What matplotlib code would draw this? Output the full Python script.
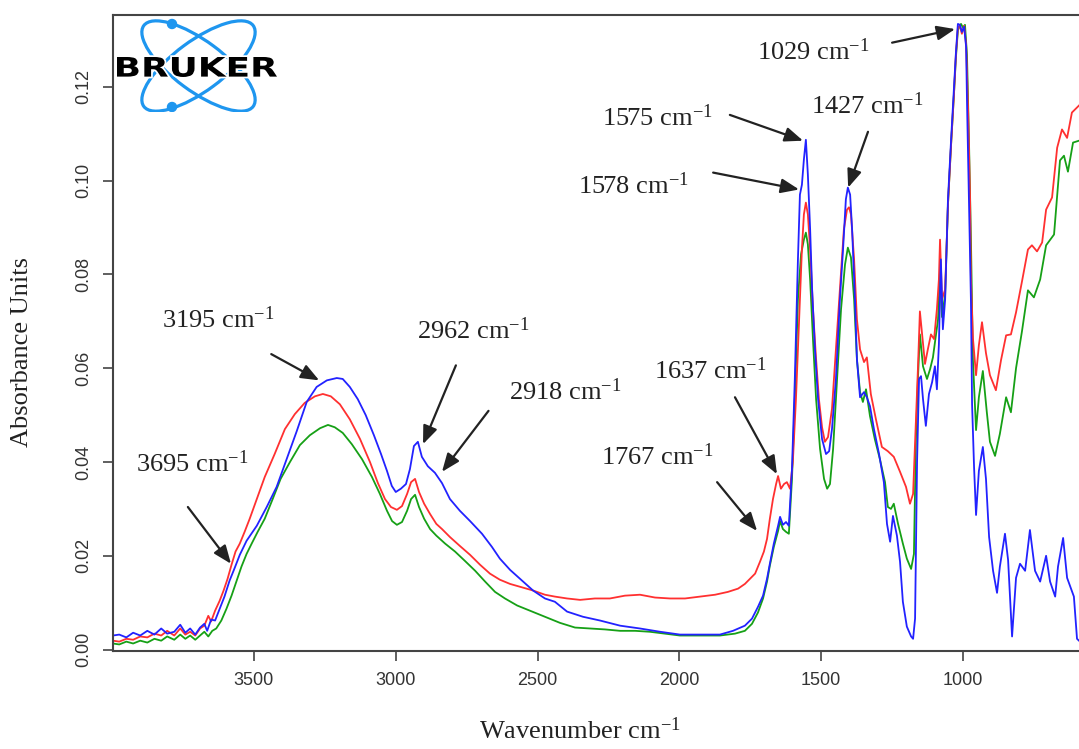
import matplotlib

matplotlib.use("Agg")
import matplotlib.pyplot as plt
import numpy as np
from matplotlib.font_manager import FontProperties
from matplotlib.patches import Circle, Ellipse, PathPatch
from matplotlib.textpath import TextPath
from matplotlib.transforms import Affine2D
import matplotlib.patheffects as pe

plt.rcParams["mathtext.fontset"] = "custom"
plt.rcParams["mathtext.rm"] = "Liberation Serif"
plt.rcParams["mathtext.default"] = "regular"

# FTIR absorbance spectra (wavenumber in cm-1, absorbance units)
BLUE_WN = [3997, 3975, 3950, 3926, 3901, 3876, 3851, 3827, 3806, 3781,
           3760, 3742, 3725, 3707, 3690, 3675, 3665, 3651, 3637, 3621,
           3604, 3586, 3568, 3550, 3526, 3490, 3455, 3420, 3385, 3349,
           3314, 3279, 3243, 3208, 3187, 3162, 3134, 3106, 3077, 3052,
           3031, 3014, 3000, 2982, 2964, 2950, 2936, 2922, 2908, 2887,
           2862, 2837, 2809, 2774, 2738, 2696, 2661, 2633, 2597, 2562,
           2516, 2474, 2439, 2396, 2340, 2280, 2209, 2139, 2068, 1998,
           1927, 1857, 1811, 1769, 1744, 1723, 1705, 1691, 1681, 1667,
           1652, 1645, 1635, 1624, 1614, 1603, 1593, 1582, 1575, 1568,
           1561, 1554, 1547, 1539, 1532, 1522, 1511, 1497, 1483, 1472,
           1462, 1448, 1434, 1423, 1413, 1406, 1398, 1391, 1381, 1374,
           1363, 1349, 1339, 1328, 1314, 1296, 1279, 1268, 1257, 1247,
           1233, 1222, 1212, 1198, 1183, 1176, 1169, 1162, 1155, 1148,
           1141, 1131, 1120, 1109, 1099, 1092, 1085, 1078, 1071, 1063,
           1053, 1042, 1032, 1025, 1018, 1011, 1004, 996, 989, 986,
           979, 972, 968, 961, 954, 944, 930, 919, 908, 894,
           880, 870, 852, 841, 827, 813, 799, 781, 764, 746,
           728, 707, 693, 675, 665, 647, 633, 619, 609, 598,
           591]
BLUE_ABS = [0.0030, 0.0032, 0.0026, 0.0036, 0.0030, 0.0040, 0.0032, 0.0045, 0.0034, 0.0038,
            0.0053, 0.0036, 0.0045, 0.0032, 0.0047, 0.0055, 0.0040, 0.0064, 0.0062, 0.0087,
            0.0113, 0.0147, 0.0174, 0.0202, 0.0232, 0.0264, 0.0304, 0.0347, 0.0406, 0.0466,
            0.0528, 0.0560, 0.0574, 0.0579, 0.0577, 0.0560, 0.0534, 0.0500, 0.0457, 0.0417,
            0.0381, 0.0349, 0.0336, 0.0343, 0.0353, 0.0385, 0.0434, 0.0443, 0.0411, 0.0391,
            0.0377, 0.0355, 0.0321, 0.0296, 0.0274, 0.0247, 0.0219, 0.0194, 0.0170, 0.0151,
            0.0126, 0.0109, 0.0102, 0.0081, 0.0070, 0.0062, 0.0051, 0.0045, 0.0038, 0.0032,
            0.0032, 0.0032, 0.0040, 0.0051, 0.0066, 0.0091, 0.0115, 0.0151, 0.0183, 0.0226,
            0.0264, 0.0283, 0.0266, 0.0272, 0.0264, 0.0385, 0.0577, 0.0832, 0.0970, 0.0991,
            0.1045, 0.1087, 0.1013, 0.0896, 0.0768, 0.0640, 0.0534, 0.0449, 0.0417, 0.0423,
            0.0470, 0.0577, 0.0747, 0.0853, 0.0960, 0.0985, 0.0970, 0.0896, 0.0747, 0.0619,
            0.0538, 0.0549, 0.0538, 0.0519, 0.0470, 0.0417, 0.0357, 0.0268, 0.0230, 0.0285,
            0.0243, 0.0187, 0.0102, 0.0049, 0.0028, 0.0023, 0.0066, 0.0400, 0.0577, 0.0583,
            0.0534, 0.0477, 0.0545, 0.0570, 0.0604, 0.0555, 0.0651, 0.0832, 0.0683, 0.0747,
            0.0960, 0.1087, 0.1194, 0.1272, 0.1334, 0.1332, 0.1317, 0.1328, 0.1285, 0.1172,
            0.0960, 0.0743, 0.0523, 0.0389, 0.0287, 0.0381, 0.0432, 0.0364, 0.0240, 0.0168,
            0.0121, 0.0177, 0.0247, 0.0191, 0.0028, 0.0153, 0.0183, 0.0168, 0.0255, 0.0168,
            0.0145, 0.0200, 0.0145, 0.0113, 0.0177, 0.0238, 0.0153, 0.0130, 0.0113, 0.0023,
            0.0019]

RED_WN = [3997, 3975, 3950, 3926, 3901, 3876, 3851, 3827, 3806, 3781,
          3760, 3742, 3725, 3707, 3690, 3675, 3661, 3651, 3637, 3621,
          3607, 3593, 3579, 3565, 3550, 3533, 3515, 3490, 3462, 3427,
          3391, 3356, 3321, 3285, 3257, 3229, 3197, 3162, 3126, 3091,
          3063, 3038, 3017, 2996, 2978, 2960, 2946, 2932, 2918, 2900,
          2879, 2857, 2837, 2809, 2774, 2738, 2703, 2668, 2633, 2597,
          2562, 2516, 2474, 2439, 2396, 2350, 2298, 2245, 2192, 2139,
          2086, 2033, 1980, 1927, 1874, 1829, 1793, 1769, 1751, 1733,
          1716, 1702, 1691, 1681, 1670, 1659, 1652, 1642, 1631, 1621,
          1610, 1600, 1589, 1578, 1568, 1561, 1554, 1547, 1539, 1529,
          1518, 1508, 1497, 1487, 1476, 1462, 1448, 1434, 1420, 1409,
          1402, 1395, 1384, 1374, 1363, 1349, 1339, 1325, 1307, 1286,
          1265, 1244, 1222, 1201, 1187, 1176, 1166, 1159, 1152, 1145,
          1134, 1124, 1113, 1102, 1092, 1085, 1081, 1074, 1063, 1053,
          1042, 1032, 1025, 1018, 1011, 1004, 996, 989, 982, 975,
          972, 965, 954, 944, 933, 919, 905, 884, 866, 848,
          831, 813, 792, 771, 757, 739, 721, 707, 686, 668,
          651, 633, 616, 591]
RED_ABS = [0.0019, 0.0017, 0.0023, 0.0021, 0.0028, 0.0026, 0.0034, 0.0030, 0.0040, 0.0030,
           0.0045, 0.0032, 0.0038, 0.0030, 0.0045, 0.0051, 0.0072, 0.0060, 0.0083, 0.0104,
           0.0126, 0.0151, 0.0181, 0.0209, 0.0226, 0.0251, 0.0279, 0.0321, 0.0368, 0.0417,
           0.0470, 0.0502, 0.0526, 0.0540, 0.0545, 0.0540, 0.0523, 0.0491, 0.0449, 0.0400,
           0.0355, 0.0321, 0.0304, 0.0298, 0.0306, 0.0332, 0.0357, 0.0364, 0.0336, 0.0311,
           0.0289, 0.0268, 0.0257, 0.0240, 0.0221, 0.0202, 0.0181, 0.0162, 0.0149, 0.0140,
           0.0134, 0.0126, 0.0117, 0.0113, 0.0109, 0.0106, 0.0109, 0.0109, 0.0115, 0.0117,
           0.0111, 0.0109, 0.0109, 0.0113, 0.0117, 0.0123, 0.0130, 0.0140, 0.0151, 0.0162,
           0.0187, 0.0209, 0.0236, 0.0279, 0.0321, 0.0353, 0.0370, 0.0343, 0.0353, 0.0357,
           0.0343, 0.0400, 0.0534, 0.0704, 0.0853, 0.0928, 0.0953, 0.0928, 0.0853, 0.0726,
           0.0619, 0.0534, 0.0474, 0.0443, 0.0453, 0.0513, 0.0640, 0.0768, 0.0896, 0.0938,
           0.0943, 0.0928, 0.0832, 0.0704, 0.0640, 0.0613, 0.0623, 0.0545, 0.0491, 0.0432,
           0.0423, 0.0411, 0.0379, 0.0347, 0.0311, 0.0332, 0.0491, 0.0598, 0.0721, 0.0677,
           0.0609, 0.0640, 0.0672, 0.0662, 0.0726, 0.0789, 0.0874, 0.0747, 0.0768, 0.0949,
           0.1077, 0.1183, 0.1268, 0.1326, 0.1330, 0.1313, 0.1330, 0.1289, 0.1151, 0.0960,
           0.0789, 0.0664, 0.0585, 0.0649, 0.0698, 0.0632, 0.0585, 0.0553, 0.0617, 0.0670,
           0.0672, 0.0719, 0.0785, 0.0853, 0.0862, 0.0849, 0.0868, 0.0938, 0.0964, 0.1070,
           0.1109, 0.1091, 0.1145, 0.1160]

GREEN_WN = [3997, 3975, 3950, 3926, 3901, 3876, 3851, 3827, 3806, 3781,
            3760, 3742, 3725, 3707, 3690, 3675, 3661, 3647, 3633, 3615,
            3597, 3579, 3561, 3544, 3526, 3508, 3487, 3462, 3434, 3406,
            3373, 3338, 3303, 3267, 3239, 3215, 3187, 3155, 3119, 3084,
            3056, 3031, 3013, 2996, 2978, 2960, 2946, 2932, 2918, 2900,
            2879, 2857, 2826, 2791, 2756, 2720, 2685, 2650, 2615, 2572,
            2527, 2474, 2421, 2368, 2315, 2262, 2209, 2156, 2104, 2051,
            1998, 1927, 1857, 1804, 1769, 1744, 1723, 1705, 1691, 1681,
            1667, 1652, 1645, 1635, 1624, 1614, 1603, 1593, 1582, 1571,
            1561, 1554, 1547, 1539, 1529, 1518, 1504, 1490, 1479, 1469,
            1458, 1444, 1430, 1416, 1406, 1395, 1384, 1374, 1363, 1353,
            1342, 1328, 1311, 1293, 1275, 1265, 1254, 1244, 1229, 1212,
            1198, 1183, 1173, 1166, 1159, 1152, 1141, 1127, 1116, 1106,
            1099, 1088, 1081, 1074, 1063, 1053, 1042, 1032, 1025, 1018,
            1007, 1000, 993, 986, 979, 972, 965, 954, 944, 930,
            916, 905, 887, 870, 848, 831, 813, 792, 771, 750,
            728, 707, 679, 658, 644, 630, 612, 591]
GREEN_ABS = [0.0013, 0.0011, 0.0017, 0.0013, 0.0019, 0.0015, 0.0023, 0.0019, 0.0028, 0.0021,
             0.0032, 0.0023, 0.0030, 0.0021, 0.0030, 0.0038, 0.0028, 0.0040, 0.0045, 0.0062,
             0.0087, 0.0115, 0.0147, 0.0177, 0.0204, 0.0226, 0.0251, 0.0279, 0.0321, 0.0364,
             0.0400, 0.0436, 0.0457, 0.0472, 0.0479, 0.0474, 0.0462, 0.0438, 0.0406, 0.0368,
             0.0332, 0.0296, 0.0274, 0.0266, 0.0272, 0.0296, 0.0321, 0.0330, 0.0304, 0.0279,
             0.0257, 0.0243, 0.0226, 0.0209, 0.0189, 0.0168, 0.0145, 0.0123, 0.0109, 0.0094,
             0.0083, 0.0070, 0.0057, 0.0047, 0.0045, 0.0043, 0.0040, 0.0040, 0.0038, 0.0034,
             0.0030, 0.0030, 0.0030, 0.0034, 0.0040, 0.0055, 0.0079, 0.0109, 0.0145, 0.0179,
             0.0219, 0.0253, 0.0274, 0.0257, 0.0251, 0.0247, 0.0364, 0.0534, 0.0747, 0.0843,
             0.0874, 0.0889, 0.0864, 0.0789, 0.0662, 0.0534, 0.0428, 0.0364, 0.0343, 0.0353,
             0.0428, 0.0577, 0.0726, 0.0821, 0.0857, 0.0836, 0.0747, 0.0619, 0.0549, 0.0528,
             0.0555, 0.0498, 0.0449, 0.0406, 0.0357, 0.0304, 0.0300, 0.0311, 0.0268, 0.0226,
             0.0194, 0.0172, 0.0204, 0.0449, 0.0577, 0.0672, 0.0604, 0.0577, 0.0598, 0.0623,
             0.0655, 0.0704, 0.0811, 0.0709, 0.0757, 0.0949, 0.1077, 0.1183, 0.1262, 0.1321,
             0.1334, 0.1326, 0.1332, 0.1268, 0.1087, 0.0874, 0.0617, 0.0468, 0.0538, 0.0594,
             0.0506, 0.0443, 0.0413, 0.0460, 0.0538, 0.0506, 0.0600, 0.0679, 0.0766, 0.0751,
             0.0789, 0.0862, 0.0885, 0.1043, 0.1053, 0.1019, 0.1081, 0.1085]

X_TICKS = [3500, 3000, 2500, 2000, 1500, 1000]
Y_TICKS = [0.00, 0.02, 0.04, 0.06, 0.08, 0.10, 0.12]

# band labels: (text, label centre, arrow tail, arrow tip) in data coordinates
PEAK_LABELS = [
    ("1029", (1529, 0.1274), (1250, 0.1294), (1028, 0.1323)),
    ("1575", (2079, 0.1134), (1822, 0.1140), (1564, 0.1085)),
    ("1578", (2163, 0.0989), (1881, 0.1017), (1578, 0.0981)),
    ("1427", (1339, 0.1160), (1335, 0.1104), (1405, 0.0985)),
    ("3195", (3626, 0.0704), (3439, 0.0630), (3270, 0.0574)),
    ("2962", (2728, 0.0679), (2788, 0.0606), (2904, 0.0438)),
    ("2918", (2401, 0.0551), (2673, 0.0509), (2837, 0.0379)),
    ("3695", (3716, 0.0396), (3733, 0.0304), (3581, 0.0183)),
    ("1637", (1892, 0.0594), (1804, 0.0538), (1656, 0.0374)),
    ("1767", (2079, 0.0411), (1867, 0.0357), (1726, 0.0253)),
]

SERIF = "Liberation Serif"
INK = "#222222"
W, H = 1079, 749

fig = plt.figure(figsize=(W / 100, H / 100), dpi=100)
ax = fig.add_axes([113 / W, 1 - 651 / H, 1 - 113 / W, 636 / H])

ax.plot(GREEN_WN, GREEN_ABS, color="#16a016", linewidth=1.3)
ax.plot(RED_WN, RED_ABS, color="#ff3030", linewidth=1.3)
ax.plot(BLUE_WN, BLUE_ABS, color="#2222ff", linewidth=1.3)

ax.set_xlim(3997, 591)
ax.set_ylim(-0.0003, 0.1353)
ax.set_xticks(X_TICKS)
ax.set_xticklabels([str(t) for t in X_TICKS])
ax.set_yticks(Y_TICKS)
ax.set_yticklabels([f"{t:.2f}" for t in Y_TICKS], rotation=90, va="center")
ax.tick_params(direction="out", length=7, width=1.2, color="#444444",
               labelsize=13, pad=8, labelcolor="#333333")
for lab in ax.get_xticklabels() + ax.get_yticklabels():
    lab.set_family(["Liberation Sans Narrow", "Liberation Sans"])
for side in ("left", "bottom", "top"):
    ax.spines[side].set_color("#444444")
    ax.spines[side].set_linewidth(1.5)
ax.spines["right"].set_visible(False)

fig.text(22 / W, 1 - 352 / H, "Absorbance Units", rotation=90, ha="center", va="center",
         family=SERIF, fontsize=19, color=INK)
fig.text(580 / W, 1 - 744 / H, r"Wavenumber cm$^{-1}$", ha="center", va="bottom",
         family=SERIF, fontsize=19, color=INK)

for label, text_xy, tail, tip in PEAK_LABELS:
    ax.annotate("", xy=tip, xytext=tail,
                arrowprops=dict(arrowstyle="-|>,head_length=0.55,head_width=0.22",
                                mutation_scale=20, color=INK, lw=1.6,
                                shrinkA=0, shrinkB=0))
    ax.text(*text_xy, label + r" cm$^{-1}$", ha="center", va="center",
            family=SERIF, fontsize=19, color=INK)

# Bruker logo in its own pixel-scaled axes
logo = fig.add_axes([115 / W, 1 - 112 / H, 167 / W, 95 / H])
logo.set_xlim(0, 167)
logo.set_ylim(95, 0)
logo.axis("off")
atom = "#1e96ef"
for angle in (36.5, -36.5):
    logo.add_patch(Ellipse((83.5, 49), 136, 50, angle=angle, fill=False,
                           edgecolor=atom, linewidth=2.3))
logo.add_patch(Circle((57, 7), 4.5, color=atom))
logo.add_patch(Circle((57, 90), 4.5, color=atom))

word = TextPath((0, 0), "BRUKER", size=1, prop=FontProperties(family="DejaVu Sans", weight="bold"))
ext = word.get_extents()
sx = 160 / ext.width
sy = 20 / ext.height
word = word.transformed(Affine2D().translate(-ext.x0, -ext.y0).scale(sx, -sy).translate(2, 60))
patch = PathPatch(word, facecolor="black", edgecolor="none")
patch.set_path_effects([pe.withStroke(linewidth=2.5, foreground="white")])
logo.add_patch(patch)

fig.savefig("out.png", dpi=100)
